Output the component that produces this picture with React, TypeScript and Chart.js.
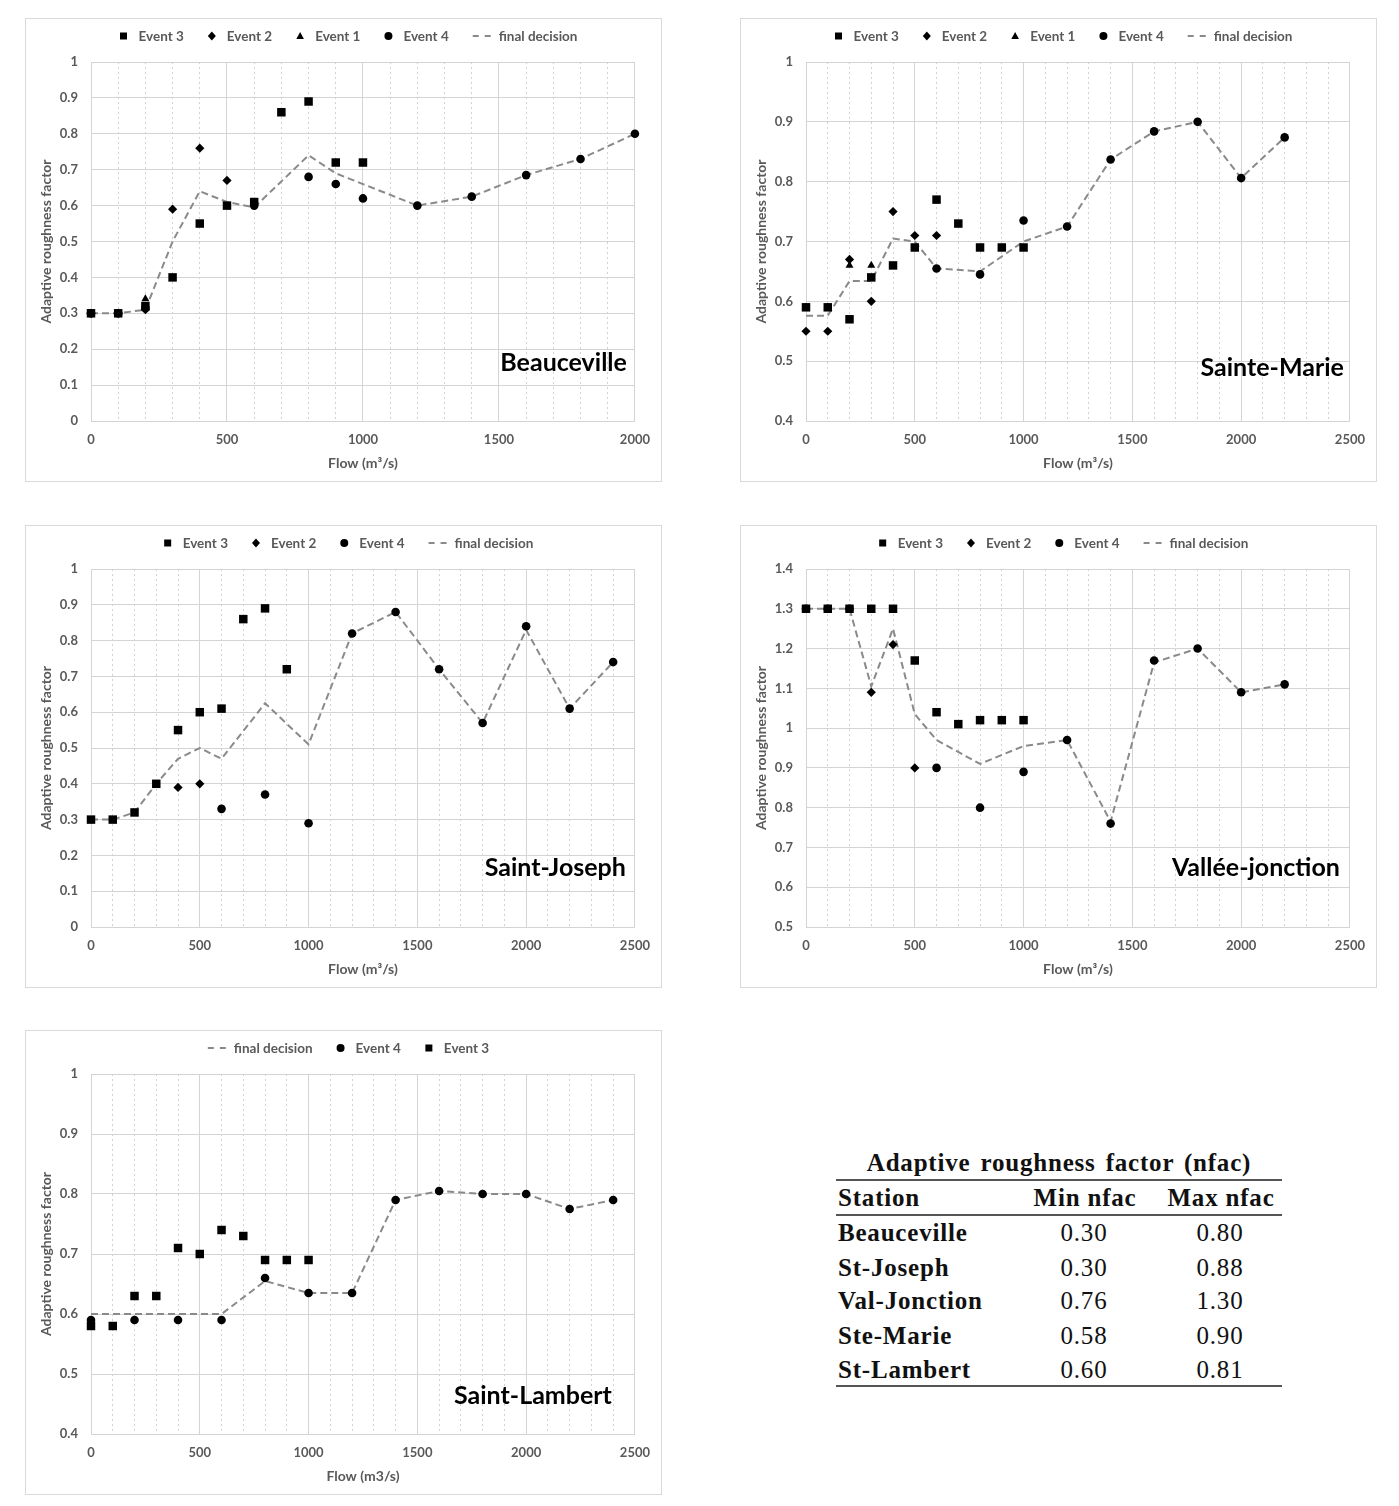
import React, { useEffect, useRef } from 'react';
import { Chart, registerables } from 'chart.js';

Chart.register(...registerables);

type Pt = [number, number];
type Key = 'e1' | 'e2' | 'e3' | 'e4' | 'final';

// ---------------- Beauceville ----------------
const beauEvent3: Pt[] = [[0, 0.3], [100, 0.3], [200, 0.32], [300, 0.4], [400, 0.55], [500, 0.6], [600, 0.61], [700, 0.86], [800, 0.89], [900, 0.72], [1000, 0.72]];
const beauEvent2: Pt[] = [[0, 0.3], [100, 0.3], [200, 0.31], [300, 0.59], [400, 0.76], [500, 0.67]];
const beauEvent1: Pt[] = [[0, 0.3], [100, 0.3], [200, 0.34]];
const beauEvent4: Pt[] = [[0, 0.3], [100, 0.3], [200, 0.315], [600, 0.6], [800, 0.68], [900, 0.66], [1000, 0.62], [1200, 0.6], [1400, 0.625], [1600, 0.685], [1800, 0.73], [2000, 0.8]];
const beauFinal: Pt[] = [[0, 0.3], [100, 0.3], [200, 0.31], [300, 0.5], [400, 0.64], [500, 0.61], [600, 0.595], [800, 0.74], [900, 0.69], [1000, 0.66], [1200, 0.6], [1400, 0.625], [1600, 0.685], [1800, 0.73], [2000, 0.8]];

// ---------------- Sainte-Marie ----------------
const marieEvent3: Pt[] = [[0, 0.59], [100, 0.59], [200, 0.57], [300, 0.64], [400, 0.66], [500, 0.69], [600, 0.77], [700, 0.73], [800, 0.69], [900, 0.69], [1000, 0.69]];
const marieEvent2: Pt[] = [[0, 0.55], [100, 0.55], [200, 0.67], [300, 0.6], [400, 0.75], [500, 0.71], [600, 0.71]];
const marieEvent1: Pt[] = [[0, 0.59], [100, 0.59], [200, 0.66], [300, 0.66]];
const marieEvent4: Pt[] = [[600, 0.655], [800, 0.645], [1000, 0.735], [1200, 0.725], [1400, 0.837], [1600, 0.884], [1800, 0.9], [2000, 0.806], [2200, 0.874]];
const marieFinal: Pt[] = [[0, 0.576], [100, 0.576], [200, 0.634], [300, 0.634], [400, 0.705], [500, 0.7], [600, 0.655], [800, 0.65], [1000, 0.7], [1200, 0.725], [1400, 0.837], [1600, 0.884], [1800, 0.9], [2000, 0.806], [2200, 0.874]];

// ---------------- Saint-Joseph ----------------
const josephEvent3: Pt[] = [[0, 0.3], [100, 0.3], [200, 0.32], [300, 0.4], [400, 0.55], [500, 0.6], [600, 0.61], [700, 0.86], [800, 0.89], [900, 0.72]];
const josephEvent2: Pt[] = [[400, 0.39], [500, 0.4]];
const josephEvent4: Pt[] = [[600, 0.33], [800, 0.37], [1000, 0.29], [1200, 0.82], [1400, 0.88], [1600, 0.72], [1800, 0.57], [2000, 0.84], [2200, 0.61], [2400, 0.74]];
const josephFinal: Pt[] = [[0, 0.3], [100, 0.3], [200, 0.32], [300, 0.4], [400, 0.47], [500, 0.5], [600, 0.47], [800, 0.625], [1000, 0.51], [1200, 0.82], [1400, 0.88], [1600, 0.72], [1800, 0.57], [2000, 0.83], [2200, 0.61], [2400, 0.74]];

// ---------------- Vallée-jonction ----------------
const valleeEvent3: Pt[] = [[0, 1.3], [100, 1.3], [200, 1.3], [300, 1.3], [400, 1.3], [500, 1.17], [600, 1.04], [700, 1.01], [800, 1.02], [900, 1.02], [1000, 1.02]];
const valleeEvent2: Pt[] = [[300, 1.09], [400, 1.21], [500, 0.9]];
const valleeEvent4: Pt[] = [[0, 1.3], [100, 1.3], [200, 1.3], [600, 0.9], [800, 0.8], [1000, 0.89], [1200, 0.97], [1400, 0.76], [1600, 1.17], [1800, 1.2], [2000, 1.09], [2200, 1.11]];
const valleeFinal: Pt[] = [[0, 1.3], [100, 1.3], [200, 1.3], [300, 1.105], [400, 1.25], [500, 1.035], [600, 0.97], [700, 0.94], [800, 0.91], [1000, 0.955], [1200, 0.97], [1400, 0.765], [1600, 1.165], [1800, 1.2], [2000, 1.09], [2200, 1.11]];

// ---------------- Saint-Lambert ----------------
const lambertEvent3: Pt[] = [[0, 0.58], [100, 0.58], [200, 0.63], [300, 0.63], [400, 0.71], [500, 0.7], [600, 0.74], [700, 0.73], [800, 0.69], [900, 0.69], [1000, 0.69]];
const lambertEvent4: Pt[] = [[0, 0.59], [200, 0.59], [400, 0.59], [600, 0.59], [800, 0.66], [1000, 0.635], [1200, 0.635], [1400, 0.79], [1600, 0.805], [1800, 0.8], [2000, 0.8], [2200, 0.775], [2400, 0.79]];
const lambertFinal: Pt[] = [[0, 0.6], [200, 0.6], [400, 0.6], [600, 0.6], [800, 0.655], [1000, 0.635], [1200, 0.635], [1400, 0.79], [1600, 0.805], [1800, 0.8], [2000, 0.8], [2200, 0.775], [2400, 0.79]];

// ---------------- Summary table ----------------
const tableTitle = 'Adaptive roughness factor (nfac)';
const tableHeader = ['Station', 'Min nfac', 'Max nfac'];
const tableStations = ['Beauceville', 'St-Joseph', 'Val-Jonction', 'Ste-Marie', 'St-Lambert'];
const tableMin = ['0.30', '0.30', '0.76', '0.58', '0.60'];
const tableMax = ['0.80', '0.88', '1.30', '0.90', '0.81'];

const X_STEP = 100;
const X_LABEL_EVERY = 500;
const Y_STEP = 0.1;

const FONT = 'Lato, "Open Sans", sans-serif';
const TEXT_GRAY = '#595959';
const GRID = '#d4d4d4';

const LABELS: Record<Key, string> = {
  e1: 'Event 1',
  e2: 'Event 2',
  e3: 'Event 3',
  e4: 'Event 4',
  final: 'final decision',
};

const MARK: Record<string, { style: string; r: number; order: number }> = {
  e3: { style: 'rect', r: 6, order: 4 },
  e2: { style: 'rectRot', r: 4.6, order: 3 },
  e1: { style: 'triangle', r: 4.6, order: 2 },
  e4: { style: 'circle', r: 4.3, order: 1 },
};

interface Series { key: Key; data: Pt[] }
interface PanelSpec {
  left: number; top: number; height: number;
  xMax: number; yMin: number; yMax: number;
  station: string; dx: number; dy: number;
  xTitle: string;
  series: Series[];
  legend: Key[];
}

const panels: PanelSpec[] = [
  {
    left: 25, top: 18, height: 462, xMax: 2000, yMin: 0, yMax: 1,
    station: 'Beauceville', dx: 8, dy: 301, xTitle: 'Flow (m³/s)',
    series: [
      { key: 'e3', data: beauEvent3 }, { key: 'e2', data: beauEvent2 }, { key: 'e1', data: beauEvent1 },
      { key: 'e4', data: beauEvent4 }, { key: 'final', data: beauFinal },
    ],
    legend: ['e3', 'e2', 'e1', 'e4', 'final'],
  },
  {
    left: 740, top: 18, height: 462, xMax: 2500, yMin: 0.4, yMax: 1,
    station: 'Sainte-Marie', dx: 6, dy: 306, xTitle: 'Flow (m³/s)',
    series: [
      { key: 'e3', data: marieEvent3 }, { key: 'e2', data: marieEvent2 }, { key: 'e1', data: marieEvent1 },
      { key: 'e4', data: marieEvent4 }, { key: 'final', data: marieFinal },
    ],
    legend: ['e3', 'e2', 'e1', 'e4', 'final'],
  },
  {
    left: 25, top: 525, height: 461, xMax: 2500, yMin: 0, yMax: 1,
    station: 'Saint-Joseph', dx: 9, dy: 299, xTitle: 'Flow (m³/s)',
    series: [
      { key: 'e3', data: josephEvent3 }, { key: 'e2', data: josephEvent2 },
      { key: 'e4', data: josephEvent4 }, { key: 'final', data: josephFinal },
    ],
    legend: ['e3', 'e2', 'e4', 'final'],
  },
  {
    left: 740, top: 525, height: 461, xMax: 2500, yMin: 0.5, yMax: 1.4,
    station: 'Vallée-jonction', dx: 10, dy: 299, xTitle: 'Flow (m³/s)',
    series: [
      { key: 'e3', data: valleeEvent3 }, { key: 'e2', data: valleeEvent2 },
      { key: 'e4', data: valleeEvent4 }, { key: 'final', data: valleeFinal },
    ],
    legend: ['e3', 'e2', 'e4', 'final'],
  },
  {
    left: 25, top: 1030, height: 463, xMax: 2500, yMin: 0.4, yMax: 1,
    station: 'Saint-Lambert', dx: 23, dy: 322, xTitle: 'Flow (m3/s)',
    series: [
      { key: 'final', data: lambertFinal }, { key: 'e4', data: lambertEvent4 }, { key: 'e3', data: lambertEvent3 },
    ],
    legend: ['final', 'e4', 'e3'],
  },
];

function toXY(pts: Pt[]) {
  return pts.map(([x, y]) => ({ x, y }));
}

function drawLegendMarker(ctx: CanvasRenderingContext2D, k: Key, x: number, y: number) {
  ctx.save();
  if (k === 'final') {
    ctx.strokeStyle = '#8a8a8a';
    ctx.lineWidth = 2;
    ctx.setLineDash([6, 6]);
    ctx.beginPath();
    ctx.moveTo(x - 9, y);
    ctx.lineTo(x + 9, y);
    ctx.stroke();
    ctx.restore();
    return;
  }
  ctx.fillStyle = '#000';
  ctx.beginPath();
  if (k === 'e3') ctx.rect(x - 3.5, y - 3.5, 7, 7);
  else if (k === 'e2') {
    ctx.moveTo(x, y - 4.5); ctx.lineTo(x + 4, y); ctx.lineTo(x, y + 4.5); ctx.lineTo(x - 4, y); ctx.closePath();
  } else if (k === 'e1') {
    ctx.moveTo(x, y - 4); ctx.lineTo(x + 3.8, y + 3); ctx.lineTo(x - 3.8, y + 3); ctx.closePath();
  } else ctx.arc(x, y, 4, 0, Math.PI * 2);
  ctx.fill();
  ctx.restore();
}

const overlayPlugin = {
  id: 'overlay',
  afterDraw(chart: any, _args: any, opts: any) {
    const { ctx, chartArea, width } = chart;
    ctx.save();
    ctx.font = `bold 13.5px ${FONT}`;
    const items = (opts.legend as Key[]).map((k) => {
      const text = LABELS[k];
      const mw = k === 'final' ? 18 : 8;
      const gap = k === 'final' ? 8 : 11;
      return { k, text, mw, gap, tw: ctx.measureText(text).width };
    });
    const itemGap = 24;
    const total = items.reduce((s, it) => s + it.mw + it.gap + it.tw, 0) + itemGap * (items.length - 1);
    let x = width / 2 + 5 - total / 2;
    const y = 17;
    for (const it of items) {
      drawLegendMarker(ctx, it.k, x + it.mw / 2, y);
      ctx.fillStyle = TEXT_GRAY;
      ctx.textAlign = 'left';
      ctx.textBaseline = 'middle';
      ctx.fillText(it.text, x + it.mw + it.gap, y + 0.5);
      x += it.mw + it.gap + it.tw + itemGap;
    }
    ctx.font = `bold 25px ${FONT}`;
    ctx.fillStyle = '#000';
    ctx.textAlign = 'right';
    ctx.textBaseline = 'middle';
    ctx.fillText(opts.station, chartArea.right - opts.dx, chartArea.top + opts.dy);
    ctx.restore();
  },
};

const isMajor = (v: number) => Math.round(v) % X_LABEL_EVERY === 0;

function Panel({ spec }: { spec: PanelSpec }) {
  const ref = useRef<HTMLCanvasElement>(null);
  useEffect(() => {
    const datasets = spec.series.map((s) =>
      s.key === 'final'
        ? {
            label: LABELS.final,
            data: toXY(s.data),
            showLine: true,
            borderColor: '#8a8a8a',
            borderWidth: 2,
            borderDash: [7, 4],
            pointRadius: 0,
            pointHoverRadius: 0,
            fill: false,
            tension: 0,
            order: 10,
            clip: false,
          }
        : {
            label: LABELS[s.key],
            data: toXY(s.data),
            showLine: false,
            pointStyle: MARK[s.key].style,
            pointRadius: MARK[s.key].r,
            pointBackgroundColor: '#000',
            pointBorderColor: '#000',
            pointBorderWidth: 0,
            order: MARK[s.key].order,
            clip: false,
          }
    );
    const tickFont = { family: FONT, size: 13, weight: 'bold' as const };
    const titleFont = { family: FONT, size: 14, weight: 'bold' as const };
    const chart = new Chart(ref.current!, {
      type: 'scatter',
      data: { datasets: datasets as any },
      plugins: [overlayPlugin as any],
      options: {
        responsive: false,
        maintainAspectRatio: false,
        animation: false,
        events: [],
        layout: { padding: { top: 43, right: 25, bottom: 0, left: 0 } },
        plugins: {
          legend: { display: false },
          tooltip: { enabled: false },
          overlay: { legend: spec.legend, station: spec.station, dx: spec.dx, dy: spec.dy },
        } as any,
        scales: {
          x: {
            type: 'linear',
            min: 0,
            max: spec.xMax,
            ticks: {
              stepSize: X_STEP,
              autoSkip: false,
              maxRotation: 0,
              padding: 11,
              color: TEXT_GRAY,
              font: tickFont,
              callback: (v: any) => (isMajor(Number(v)) ? String(Math.round(Number(v))) : ''),
            },
            grid: {
              drawTicks: false,
              lineWidth: 1,
              color: (c: any) => (c.tick && !isMajor(c.tick.value) ? '#d2d2d2' : GRID),
            },
            border: {
              display: false,
              dash: (c: any) => (c.tick && !isMajor(c.tick.value) ? [2, 3] : []),
            },
            title: { display: true, text: spec.xTitle, color: TEXT_GRAY, font: titleFont, padding: { top: 0, bottom: 9 } },
            afterFit: (s: any) => { s.height = 60; },
          },
          y: {
            type: 'linear',
            min: spec.yMin,
            max: spec.yMax,
            ticks: {
              stepSize: Y_STEP,
              padding: 13,
              color: TEXT_GRAY,
              font: tickFont,
              callback: (v: any) => String(Math.round(Number(v) * 10) / 10),
            },
            grid: { drawTicks: false, lineWidth: 1, color: GRID },
            border: { display: false },
            title: { display: true, text: 'Adaptive roughness factor', color: TEXT_GRAY, font: titleFont, padding: { top: 12, bottom: 0 } },
            afterFit: (s: any) => { s.width = 65; },
          },
        } as any,
      },
    });
    return () => chart.destroy();
  }, [spec]);
  return (
    <div
      style={{
        position: 'absolute',
        left: spec.left,
        top: spec.top,
        width: 635,
        height: spec.height,
        border: '1px solid #d9d9d9',
        background: '#fff',
      }}
    >
      <canvas ref={ref} width={635} height={spec.height} style={{ display: 'block' }} />
    </div>
  );
}

const SERIF = '"Liberation Serif", "Times New Roman", serif';
const rowCenters = [1233, 1268, 1301, 1336, 1370];

function SummaryTable() {
  const base: React.CSSProperties = {
    position: 'absolute',
    fontFamily: SERIF,
    fontSize: 25,
    lineHeight: '30px',
    color: '#111',
    letterSpacing: 0.8,
    whiteSpace: 'nowrap',
  };
  const rule = (top: number, h: number): React.CSSProperties => ({
    position: 'absolute', left: 836, width: 446, top, height: h, background: '#555',
  });
  return (
    <>
      <div style={{ ...base, left: 836, width: 446, top: 1148, textAlign: 'center', fontWeight: 'bold', wordSpacing: 3 }}>
        {tableTitle}
      </div>
      <div style={rule(1179, 2)} />
      <div style={{ ...base, left: 838, top: 1183, fontWeight: 'bold' }}>{tableHeader[0]}</div>
      <div style={{ ...base, left: 1015, width: 140, top: 1183, textAlign: 'center', fontWeight: 'bold' }}>{tableHeader[1]}</div>
      <div style={{ ...base, left: 1151, width: 140, top: 1183, textAlign: 'center', fontWeight: 'bold' }}>{tableHeader[2]}</div>
      <div style={rule(1214, 1.5)} />
      {tableStations.map((st, i) => (
        <React.Fragment key={st}>
          <div style={{ ...base, left: 838, top: rowCenters[i] - 15, fontWeight: 'bold' }}>{st}</div>
          <div style={{ ...base, left: 1024, width: 120, top: rowCenters[i] - 15, textAlign: 'center' }}>{tableMin[i]}</div>
          <div style={{ ...base, left: 1160, width: 120, top: rowCenters[i] - 15, textAlign: 'center' }}>{tableMax[i]}</div>
        </React.Fragment>
      ))}
      <div style={rule(1385, 2)} />
    </>
  );
}

export default function App() {
  return (
    <div style={{ position: 'absolute', left: 0, top: 0, width: 1399, height: 1506, background: '#fff' }}>
      {panels.map((p) => (
        <Panel key={p.station} spec={p} />
      ))}
      <SummaryTable />
    </div>
  );
}
